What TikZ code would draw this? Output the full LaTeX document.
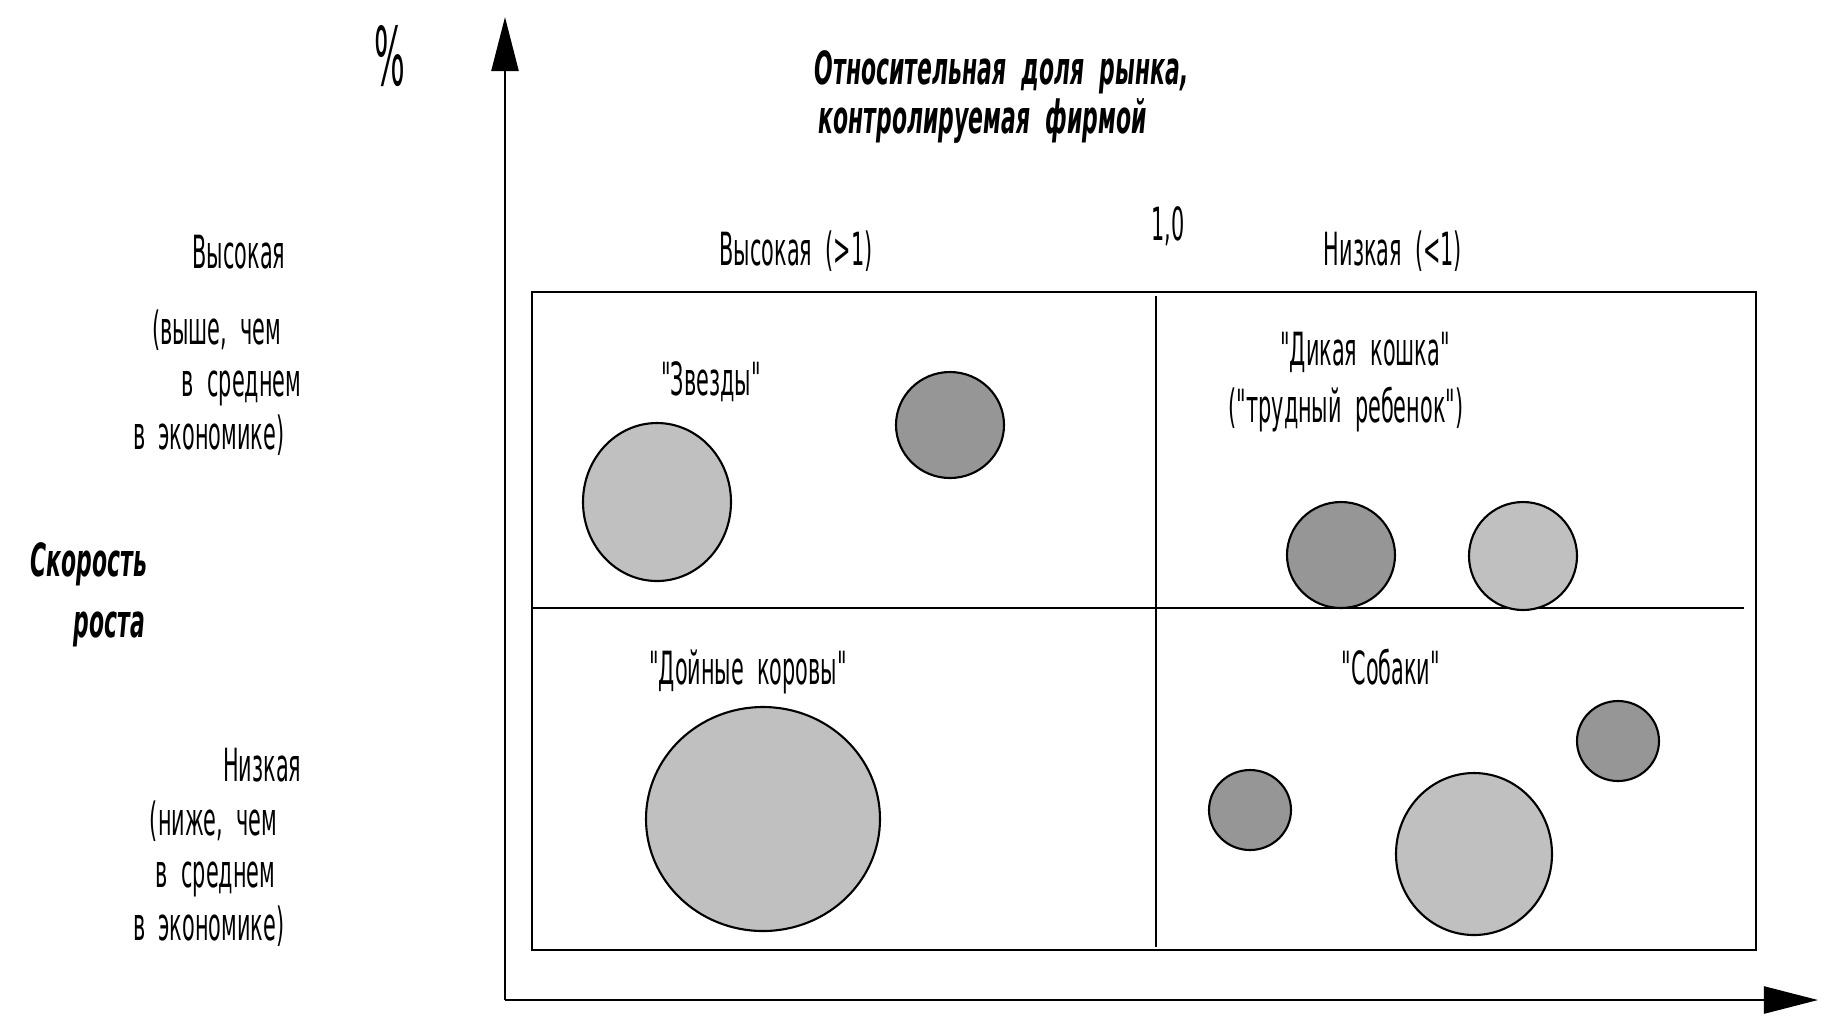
\documentclass[tikz,border=0pt]{standalone}
\usepackage{fontspec}
\setmainfont{DejaVu Sans}[FakeStretch=0.455, WordSpace=2, Ligatures=TeXOff,
  BoldItalicFeatures={FakeStretch=0.48}]
\newfontfamily\pctfont{DejaVu Sans}[FakeStretch=0.4]
\usetikzlibrary{arrows.meta}

\definecolor{lightball}{RGB}{192,192,192}
\definecolor{darkball}{RGB}{150,150,150}

\begin{document}
\begin{tikzpicture}[x=0.01cm, y=-0.01cm,
  lbl/.style={font=\fontsize{13}{15}\selectfont, inner sep=0pt, anchor=base},
  lblr/.style={lbl, anchor=base east},
  head/.style={font=\fontsize{13}{15}\selectfont\bfseries\itshape, inner sep=0pt},
  axis/.style={line width=0.7pt, -{Triangle[length=5.4mm, width=2.7mm]}},
  frame/.style={line width=0.6pt},
  lightb/.style={draw, line width=0.6pt, fill=lightball},
  darkb/.style={draw, line width=0.6pt, fill=darkball}]
\useasboundingbox (0,0) rectangle (1833,1026);

% axes
\coordinate (orig) at (505,1000);
\coordinate (ytip) at (505,17);
\coordinate (xtip) at (1818,1000);
\draw[axis] (orig) -- (ytip);
\draw[axis] (orig) -- (xtip);
\node[lbl, font=\fontsize{23}{26}\selectfont\pctfont] (pct) at (390,85) {\%};

% matrix
\draw[frame] (532,292) rectangle (1756,950);
\draw[frame] (1156,296) -- (1156,947);
\draw[frame] (532,608) -- (1744,608);

% balls
\fill[lightb] (657,502) ellipse [x radius=74, y radius=79];
\fill[darkb] (950,425) ellipse [x radius=54, y radius=53];
\fill[darkb] (1341,555) ellipse [x radius=54, y radius=53];
\fill[lightb] (1523,556) ellipse [x radius=54, y radius=54];
\fill[lightb] (763,819) ellipse [x radius=117, y radius=112];
\fill[darkb] (1250,810) ellipse [x radius=41, y radius=40];
\fill[lightb] (1474,854) ellipse [x radius=78, y radius=81];
\fill[darkb] (1618,741) ellipse [x radius=41, y radius=40];

% top labels
\node[head, anchor=base west] (ttl1) at (814,84) {Относительная доля рынка,};
\node[head, anchor=base west] (ttl2) at (818,133) {контролируемая фирмой};
\node[lbl] (one) at (1168,240) {1,0};
\node[lbl] (hi) at (796,265) {Высокая (>1)};
\node[lbl] (lo) at (1393,265) {Низкая (<1)};

% left labels
\node[lblr] (hiA) at (286,268) {Высокая};
\node[lblr] (hiB) at (282,344) {(выше, чем};
\node[lblr] (hiC) at (302,396) {в среднем};
\node[lblr] (hiD) at (285,449) {в экономике)};
\node[head, anchor=base east] (sp1) at (148,576) {Скорость};
\node[head, anchor=base east] (sp2) at (146,637) {роста};
\node[lblr] (loA) at (302,781) {Низкая};
\node[lblr] (loB) at (278,835) {(ниже, чем};
\node[lblr] (loC) at (276,887) {в среднем};
\node[lblr] (loD) at (285,940) {в экономике)};

% quadrant names
\node[lbl] (stars) at (711,395) {"Звезды"};
\node[lbl] (cat1) at (1365,365) {"Дикая кошка"};
\node[lbl] (cat2) at (1346,422) {("трудный ребенок")};
\node[lbl] (cows) at (748,684) {"Дойные коровы"};
\node[lbl] (dogs) at (1391,684) {"Собаки"};
\end{tikzpicture}
\end{document}
